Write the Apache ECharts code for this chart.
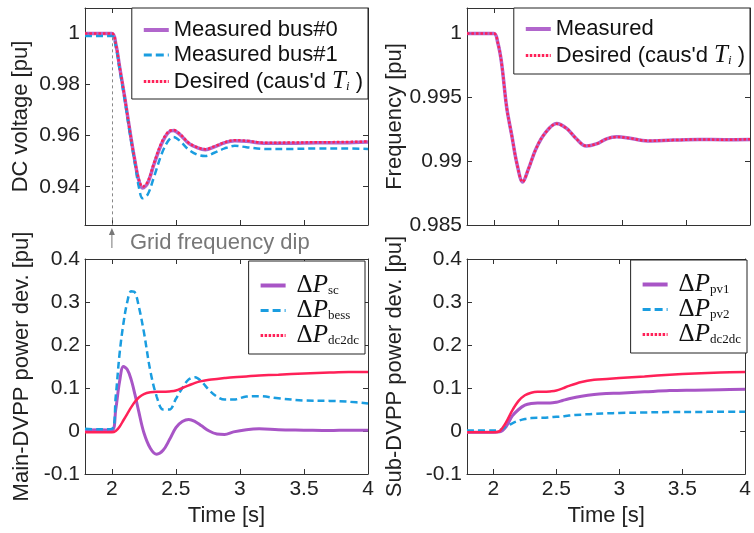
<!DOCTYPE html>
<html>
<head>
<meta charset="utf-8">
<script src="https://cdn.jsdelivr.net/npm/echarts@6/dist/echarts.min.js"></script>
<style>html,body{margin:0;padding:0;background:#fff}#main{width:754px;height:533px}</style>
</head>
<body>
<div id="main"></div>
<script>
// time ticks shared by all panels
var xTicks = [2, 2.5, 3, 3.5, 4];
var yTicksV = [0.94, 0.96, 0.98, 1];
var yTicksF = [0.985, 0.99, 0.995, 1];
var yTicksP = [-0.1, 0, 0.1, 0.2, 0.3, 0.4];

// DC voltage panel
var tV = [1.79, 2.0, 2.03, 2.06, 2.1, 2.14, 2.18, 2.21, 2.24, 2.28, 2.33, 2.39, 2.44, 2.48, 2.53, 2.6, 2.67, 2.73, 2.8, 2.88, 2.96, 3.05, 3.2, 3.4, 3.6, 3.8, 4.0];
var vBus0 = [1.0, 1.0, 0.996, 0.987, 0.975, 0.962, 0.950, 0.9425, 0.9395, 0.9415, 0.949, 0.957, 0.9612, 0.962, 0.9605, 0.957, 0.9552, 0.9545, 0.9556, 0.9572, 0.958, 0.9578, 0.957, 0.957, 0.9572, 0.9572, 0.9575];
var vBus1 = [0.999, 0.999, 0.995, 0.986, 0.974, 0.961, 0.949, 0.940, 0.9355, 0.937, 0.944, 0.953, 0.958, 0.9595, 0.958, 0.9545, 0.9525, 0.952, 0.9533, 0.955, 0.956, 0.9555, 0.9548, 0.9548, 0.955, 0.955, 0.9548];
var vDes = [1.0, 1.0, 0.996, 0.987, 0.975, 0.962, 0.950, 0.943, 0.940, 0.942, 0.9495, 0.9575, 0.9615, 0.9622, 0.9607, 0.9572, 0.9554, 0.9547, 0.9558, 0.9574, 0.9582, 0.958, 0.9572, 0.9573, 0.9574, 0.9575, 0.9577];

// frequency panel
var tF = [1.79, 2.0, 2.03, 2.06, 2.1, 2.14, 2.18, 2.225, 2.27, 2.33, 2.4, 2.49, 2.57, 2.64, 2.72, 2.8, 2.88, 2.96, 3.05, 3.2, 3.4, 3.6, 3.8, 4.0];
var fMeas = [1.0, 1.0, 0.9993, 0.9977, 0.9942, 0.992, 0.9898, 0.98836, 0.9894, 0.991, 0.9922, 0.99295, 0.99255, 0.9918, 0.99118, 0.99135, 0.99175, 0.99191, 0.99182, 0.99158, 0.99165, 0.9917, 0.99168, 0.9917];
var fDes = [1.0, 1.0, 0.9993, 0.9977, 0.9942, 0.992, 0.9898, 0.98838, 0.9894, 0.991, 0.9922, 0.99293, 0.99255, 0.9918, 0.9912, 0.99135, 0.99175, 0.9919, 0.99182, 0.9916, 0.99165, 0.9917, 0.99168, 0.99172];

// main DVPP power deviations
var tM = [1.79, 1.9, 2.0, 2.03, 2.06, 2.09, 2.12, 2.15, 2.18, 2.21, 2.25, 2.3, 2.35, 2.4, 2.45, 2.5, 2.55, 2.6, 2.65, 2.7, 2.76, 2.82, 2.88, 2.95, 3.05, 3.15, 3.3, 3.5, 3.7, 3.85, 4.0];
var pSc = [0.002, 0.003, 0.002, 0.05, 0.115, 0.15, 0.143, 0.12, 0.085, 0.045, -0.004, -0.04, -0.054, -0.045, -0.02, 0.008, 0.022, 0.027, 0.022, 0.012, 0.0, -0.007, -0.008, -0.002, 0.003, 0.005, 0.003, 0.002, 0.001, 0.002, 0.002];
var pBess = [0.005, 0.004, 0.005, 0.08, 0.18, 0.25, 0.3, 0.325, 0.322, 0.29, 0.23, 0.14, 0.08, 0.05, 0.05, 0.075, 0.1, 0.12, 0.125, 0.115, 0.095, 0.08, 0.073, 0.073, 0.08, 0.081, 0.076, 0.071, 0.07, 0.068, 0.064];
var pDcM = [-0.003, -0.003, -0.003, 0.0, 0.01, 0.025, 0.04, 0.055, 0.068, 0.078, 0.086, 0.09, 0.091, 0.091, 0.092, 0.094, 0.1, 0.106, 0.112, 0.116, 0.119, 0.121, 0.123, 0.125, 0.127, 0.129, 0.131, 0.134, 0.136, 0.137, 0.137];

// sub DVPP power deviations
var tS = [1.79, 2.0, 2.05, 2.1, 2.15, 2.2, 2.25, 2.3, 2.35, 2.4, 2.45, 2.5, 2.55, 2.6, 2.7, 2.8, 2.9, 3.0, 3.2, 3.4, 3.6, 3.8, 4.0];
var pPv1 = [-0.003, -0.003, -0.002, 0.01, 0.035, 0.05, 0.06, 0.064, 0.065, 0.065, 0.065, 0.067, 0.071, 0.075, 0.081, 0.085, 0.087, 0.088, 0.091, 0.094, 0.095, 0.096, 0.097];
var pPv2 = [0.001, 0.001, 0.002, 0.01, 0.018, 0.024, 0.028, 0.03, 0.031, 0.031, 0.032, 0.033, 0.034, 0.036, 0.038, 0.04, 0.041, 0.042, 0.043, 0.044, 0.044, 0.045, 0.045];
var pDcS = [-0.003, -0.003, 0.0, 0.02, 0.048, 0.07, 0.083, 0.089, 0.091, 0.091, 0.092, 0.094, 0.099, 0.105, 0.114, 0.119, 0.121, 0.123, 0.127, 0.131, 0.134, 0.136, 0.137];

var PURPLE = '#a855c6', BLUE = '#1a9de0', RED = '#ff2158';
var AXIS = '#333', TXT = '#222';
var FONT = 'Liberation Sans';
var X_MIN = 1.79, X_MAX = 4;

function pairs(t, v) { return t.map(function (x, i) { return [x, v[i]]; }); }

var grids = [
  { left: 85, top: 8, width: 283, height: 217 },
  { left: 467, top: 8, width: 283, height: 217 },
  { left: 85, top: 259, width: 283, height: 215 },
  { left: 467, top: 259, width: 283, height: 215 }
];

var xAxes = [], yAxes = [];
function addAxes(g, showX, yMin, yMax, yTicks, yName, nameGap) {
  var tick = { inside: true, length: 5, lineStyle: { color: AXIS } };
  var line = { show: true, onZero: false, lineStyle: { color: AXIS, width: 1 } };
  xAxes.push({
    gridIndex: g, type: 'value', min: X_MIN, max: X_MAX, position: 'bottom',
    axisLine: line, axisTick: Object.assign({ customValues: xTicks }, tick),
    axisLabel: { show: showX, customValues: xTicks, margin: 5, fontSize: 21, color: TXT, fontFamily: FONT },
    splitLine: { show: false },
    name: showX ? 'Time [s]' : '', nameLocation: 'middle', nameGap: 31,
    nameTextStyle: { fontSize: 22, color: TXT, fontFamily: FONT }
  });
  xAxes.push({
    gridIndex: g, type: 'value', min: X_MIN, max: X_MAX, position: 'top',
    axisLine: line, axisTick: Object.assign({ customValues: xTicks }, tick),
    axisLabel: { show: false }, splitLine: { show: false }
  });
  yAxes.push({
    gridIndex: g, type: 'value', min: yMin, max: yMax, position: 'left',
    axisLine: line, axisTick: Object.assign({ customValues: yTicks }, tick),
    axisLabel: { customValues: yTicks, margin: 5, fontSize: 21, color: TXT, fontFamily: FONT },
    splitLine: { show: false },
    name: yName, nameLocation: 'middle', nameRotate: 90, nameGap: nameGap,
    nameTextStyle: { fontSize: 22, color: TXT, fontFamily: FONT }
  });
  yAxes.push({
    gridIndex: g, type: 'value', min: yMin, max: yMax, position: 'right',
    axisLine: line, axisTick: Object.assign({ customValues: yTicks }, tick),
    axisLabel: { show: false }, splitLine: { show: false }
  });
}
addAxes(0, false, 0.925, 1.01, yTicksV, 'DC voltage [pu]', 53);
addAxes(1, false, 0.985, 1.002, yTicksF, 'Frequency [pu]', 61);
addAxes(2, true, -0.1, 0.4, yTicksP, 'Main-DVPP power dev. [pu]', 52);
addAxes(3, true, -0.1, 0.4, yTicksP, 'Sub-DVPP power dev. [pu]', 61);

var SOLID = { width: 3.5, type: 'solid', opacity: 0.9 };
var DASH = { width: 2.5, type: [7, 4] };
var DOT = { width: 2.5, type: [2.5, 2] };

function line(name, g, data, color, style, extra) {
  return Object.assign({
    name: name, type: 'line', xAxisIndex: 2 * g, yAxisIndex: 2 * g,
    data: data, showSymbol: false, symbol: 'none', smooth: 0.35,
    color: color, lineStyle: Object.assign({ color: color }, style),
    emphasis: { disabled: true }
  }, extra || {});
}

var series = [
  line('Measured bus#0', 0, pairs(tV, vBus0), PURPLE, SOLID, {
    markLine: {
      silent: true, symbol: ['none', 'none'], label: { show: false },
      lineStyle: { color: '#888', type: [3, 3], width: 1 },
      data: [[{ coord: [2, 0.9985] }, { coord: [2, 0.925] }]]
    }
  }),
  line('Measured bus#1', 0, pairs(tV, vBus1), BLUE, DASH),
  line('Desired V', 0, pairs(tV, vDes), RED, DOT),
  line('Measured', 1, pairs(tF, fMeas), PURPLE, SOLID),
  line('Desired F', 1, pairs(tF, fDes), RED, DOT),
  line('sc', 2, pairs(tM, pSc), PURPLE, { width: 3, type: 'solid' }),
  line('bess', 2, pairs(tM, pBess), BLUE, DASH),
  line('dc2dc main', 2, pairs(tM, pDcM), RED, { width: 2.5, type: 'solid' }),
  line('pv1', 3, pairs(tS, pPv1), PURPLE, { width: 3, type: 'solid' }),
  line('pv2', 3, pairs(tS, pPv2), BLUE, DASH),
  line('dc2dc sub', 3, pairs(tS, pDcS), RED, { width: 2.5, type: 'solid' })
];

var RICH = {
  n: { fontFamily: FONT, fontSize: 22, lineHeight: 24, color: '#111' },
  d: { fontFamily: 'Liberation Serif', fontSize: 25, lineHeight: 24, color: '#111', padding: [0, 0, 0, 6] },
  p: { fontFamily: 'Liberation Serif', fontStyle: 'italic', fontSize: 25, lineHeight: 24, color: '#111' },
  s: { fontFamily: 'Liberation Serif', fontSize: 13, lineHeight: 12, verticalAlign: 'bottom', color: '#111' },
  si: { fontFamily: 'Liberation Serif', fontStyle: 'italic', fontSize: 13, lineHeight: 12, verticalAlign: 'bottom', color: '#111' }
};
var LABELS = {
  'Measured bus#0': '{n|Measured bus#0}',
  'Measured bus#1': '{n|Measured bus#1}',
  'Desired V': "{n|Desired (caus'd }{p|T}{si|i}{n| )}",
  'Measured': '{n|Measured}',
  'Desired F': "{n|Desired (caus'd }{p|T}{si|i}{n| )}",
  'sc': '{d|Δ}{p|P}{s|sc}',
  'bess': '{d|Δ}{p|P}{s|bess}',
  'dc2dc main': '{d|Δ}{p|P}{s|dc2dc}',
  'pv1': '{d|Δ}{p|P}{s|pv1}',
  'pv2': '{d|Δ}{p|P}{s|pv2}',
  'dc2dc sub': '{d|Δ}{p|P}{s|dc2dc}'
};

// legend entries: the key shows only the line sample; red always dotted in the key
var HIDE_SYMBOL = { opacity: 0, color: 'transparent', borderColor: 'transparent', borderWidth: 0 };
var KEY_PURPLE = ['Measured bus#0', 'Measured', 'sc', 'pv1'];
var KEY_BLUE = ['Measured bus#1', 'bess', 'pv2'];
function entry(n) {
  var o = { name: n, itemStyle: HIDE_SYMBOL };
  if (KEY_PURPLE.indexOf(n) >= 0) o.lineStyle = { width: 4, type: 'solid' };
  else if (KEY_BLUE.indexOf(n) >= 0) o.lineStyle = { width: 3, type: [8, 4] };
  else o.lineStyle = { width: 3, type: [2.5, 1.5] };
  return o;
}

function legend(names, right, top, gap, pad) {
  return {
    data: names.map(entry), right: right, top: top, orient: 'vertical',
    itemWidth: 25, itemHeight: 14, itemGap: gap,
    padding: pad, backgroundColor: '#fff', borderColor: '#222', borderWidth: 1, borderRadius: 0,
    selectedMode: false,
    itemStyle: HIDE_SYMBOL,
    formatter: function (n) { return LABELS[n]; },
    textStyle: { rich: RICH }
  };
}

var option = {
  animation: false,
  backgroundColor: '#fff',
  grid: grids,
  xAxis: xAxes,
  yAxis: yAxes,
  legend: [
    legend(['Measured bus#0', 'Measured bus#1', 'Desired V'], 386, 8, 3, [11, 5, 5, 10]),
    legend(['Measured', 'Desired F'], 4, 8, 3, [10, 5, 6, 10]),
    legend(['sc', 'bess', 'dc2dc main'], 389, 261, 0, [12, 6, 6, 10]),
    legend(['pv1', 'pv2', 'dc2dc sub'], 7, 260, 0, [12, 6, 6, 10])
  ],
  series: series
};

var chart = echarts.init(document.getElementById('main'), null, { renderer: 'canvas' });
chart.setOption(option);

// "Grid frequency dip" annotation below the DC voltage panel
var p = chart.convertToPixel({ gridIndex: 0 }, [2, 0.925]);
chart.setOption({
  graphic: [
    { type: 'line', shape: { x1: p[0], y1: p[1] + 23, x2: p[0], y2: p[1] + 6 }, style: { stroke: '#777', lineWidth: 1 } },
    { type: 'polygon', shape: { points: [[p[0], p[1] + 3], [p[0] - 3, p[1] + 10], [p[0] + 3, p[1] + 10]] }, style: { fill: '#777' } },
    { type: 'text', x: p[0] + 18, y: p[1] + 18, style: { text: 'Grid frequency dip', fontSize: 22, fontFamily: FONT, fill: '#777', verticalAlign: 'middle' } }
  ]
});
</script>
</body>
</html>
